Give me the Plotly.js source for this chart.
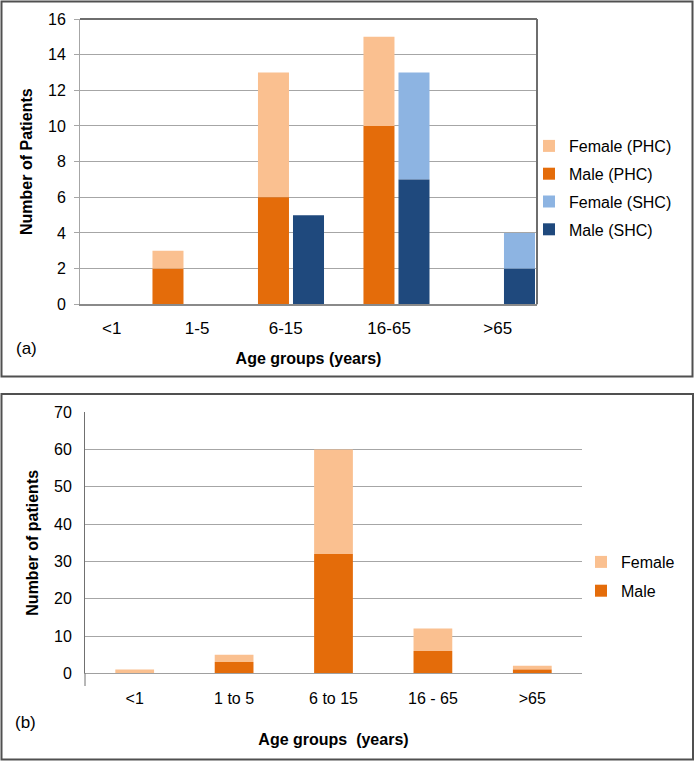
<!DOCTYPE html>
<html>
<head>
<meta charset="utf-8">
<script src="https://cdn.plot.ly/plotly-3.0.1.min.js"></script>
<style>
  html, body { margin: 0; padding: 0; background: #ffffff; }
  #chart { width: 694px; height: 761px; }
</style>
</head>
<body>
<div id="chart"></div>
<script>
// ---------- data: panel (a) ----------
const catsA = ['<1', '1-5', '6-15', '16-65', '>65'];
const femalePHC = [0, 1, 7, 5, 0];
const malePHC   = [0, 2, 6, 10, 0];
const femaleSHC = [0, 0, 0, 6, 2];
const maleSHC   = [0, 0, 5, 7, 2];

// ---------- data: panel (b) ----------
const catsB = ['<1', '1 to 5', '6 to 15', '16 - 65', '>65'];
const femaleB = [1, 2, 28, 6, 1];
const maleB   = [0, 3, 32, 6, 1];

// ---------- layout helpers (pixel -> paper) ----------
const W = 694, H = 761;
const px = v => v / W;
const py = v => 1 - v / H;
const FONT = 'Liberation Sans, Arial, Helvetica, sans-serif';

// tick label placement for panel (a) (category-index units)
const labelPosA = [0.30, 1.11, 1.95, 2.93, 3.96];

const C = {
  femPHC: '#FAC090', malePHC: '#E46C0A',
  femSHC: '#8DB4E2', maleSHC: '#1F497D'
};

const barW = 0.294, offPHC = -0.313, offSHC = 0.019;

const traces = [
  { type: 'bar', name: 'Female (PHC)', x: catsA, y: femalePHC, base: malePHC, legendgroup: 'a1',
    width: barW, offset: offPHC, marker: { color: C.femPHC }, xaxis: 'x', yaxis: 'y', legend: 'legend' },
  { type: 'bar', name: 'Male (PHC)', x: catsA, y: malePHC, legendgroup: 'a2',
    width: barW, offset: offPHC, marker: { color: C.malePHC }, xaxis: 'x', yaxis: 'y', legend: 'legend' },
  { type: 'bar', name: 'Female (SHC)', x: catsA, y: femaleSHC, base: maleSHC, legendgroup: 'a3',
    width: barW, offset: offSHC, marker: { color: C.femSHC }, xaxis: 'x', yaxis: 'y', legend: 'legend' },
  { type: 'bar', name: 'Male (SHC)', x: catsA, y: maleSHC, legendgroup: 'a4',
    width: barW, offset: offSHC, marker: { color: C.maleSHC }, xaxis: 'x', yaxis: 'y', legend: 'legend' },

  { type: 'bar', name: 'Female', x: catsB, y: femaleB, base: maleB, legendgroup: 'b1',
    width: 0.39, marker: { color: C.femPHC }, xaxis: 'x2', yaxis: 'y2', legend: 'legend2' },
  { type: 'bar', name: 'Male', x: catsB, y: maleB, legendgroup: 'b2',
    width: 0.39, marker: { color: C.malePHC }, xaxis: 'x2', yaxis: 'y2', legend: 'legend2' }
];

const layout = {
  width: W, height: H,
  margin: { l: 0, r: 0, t: 0, b: 0, pad: 0 },
  paper_bgcolor: '#ffffff', plot_bgcolor: '#ffffff',
  font: { family: FONT, color: '#000000', size: 16 },
  barmode: 'overlay',
  hovermode: false,

  xaxis: {
    domain: [px(80), px(537)], anchor: 'y', type: 'category',
    range: [0, 4.332], tickmode: 'array', tickvals: labelPosA, ticktext: catsA,
    showgrid: false, zeroline: false, showline: true, linecolor: '#8a8a8a', linewidth: 1.5,
    ticks: '', tickfont: { size: 17 }, ticklabelstandoff: 8,
    title: { text: '<b>Age groups (years)</b>', font: { size: 16 }, standoff: 15 }
  },
  yaxis: {
    domain: [py(304.3), py(19)], anchor: 'x', range: [0, 16], dtick: 2,
    showgrid: true, gridcolor: '#a6a6a6', gridwidth: 1, zeroline: false,
    showline: true, linecolor: '#a6a6a6', linewidth: 1,
    ticks: 'outside', ticklen: 5, tickcolor: '#a6a6a6', tickfont: { size: 16 }, ticklabelstandoff: 5,
    title: { text: '<b>Number of Patients</b>', font: { size: 16 }, standoff: 11 }
  },

  xaxis2: {
    domain: [px(85), px(582)], anchor: 'y2', type: 'category',
    showgrid: false, zeroline: false, showline: true, linecolor: '#a0a0a0', linewidth: 1,
    ticks: '', tickfont: { size: 16 }, ticklabelstandoff: 10,
    title: { text: '<b>Age groups&nbsp; (years)</b>', font: { size: 16 }, standoff: 28 }
  },
  yaxis2: {
    domain: [py(673.3), py(412.3)], anchor: 'x2', range: [0, 70], dtick: 10,
    showgrid: true, gridcolor: '#a6a6a6', gridwidth: 1, zeroline: false,
    showline: true, linecolor: '#707070', linewidth: 1,
    ticks: '', tickfont: { size: 16 }, ticklabelstandoff: 9,
    title: { text: '<b>Number of patients</b>', font: { size: 16 }, standoff: 11 }
  },

  legend: {
    x: px(529), y: py(129), xanchor: 'left', yanchor: 'top', tracegroupgap: 4,
    traceorder: 'grouped', bgcolor: 'rgba(0,0,0,0)', font: { size: 16 }
  },
  legend2: {
    x: px(581), y: py(545), xanchor: 'left', yanchor: 'top', tracegroupgap: 5,
    traceorder: 'grouped', bgcolor: 'rgba(0,0,0,0)', font: { size: 16 }
  },

  shapes: [
    // panel borders
    { type: 'rect', xref: 'paper', yref: 'paper', x0: px(1.5), x1: px(692.5), y0: py(1.5), y1: py(376.5),
      line: { color: '#505050', width: 2 } },
    { type: 'rect', xref: 'paper', yref: 'paper', x0: px(1.5), x1: px(693), y0: py(394), y1: py(759.5),
      line: { color: '#505050', width: 2 } },
    // plot frame top + right (panel a)
    { type: 'line', xref: 'x domain', yref: 'y domain', x0: 0, x1: 1, y0: 1, y1: 1,
      line: { color: '#6e6e6e', width: 2 } },
    { type: 'line', xref: 'x domain', yref: 'y domain', x0: 1, x1: 1, y0: 0, y1: 1,
      line: { color: '#6e6e6e', width: 2 } },
    // axis line overhang below zero (panel b)
    { type: 'line', xref: 'x2 domain', yref: 'y2 domain', x0: 0, x1: 0, y0: 0, y1: -0.0487,
      line: { color: '#707070', width: 1 } }
  ],

  annotations: [
    { xref: 'paper', yref: 'paper', x: px(14), y: py(348), xanchor: 'left', yanchor: 'middle',
      text: '(a)', showarrow: false, font: { size: 17 } },
    { xref: 'paper', yref: 'paper', x: px(13), y: py(722), xanchor: 'left', yanchor: 'middle',
      text: '(b)', showarrow: false, font: { size: 17 } }
  ]
};

Plotly.newPlot('chart', traces, layout, { displayModeBar: false, staticPlot: true });
</script>
</body>
</html>
